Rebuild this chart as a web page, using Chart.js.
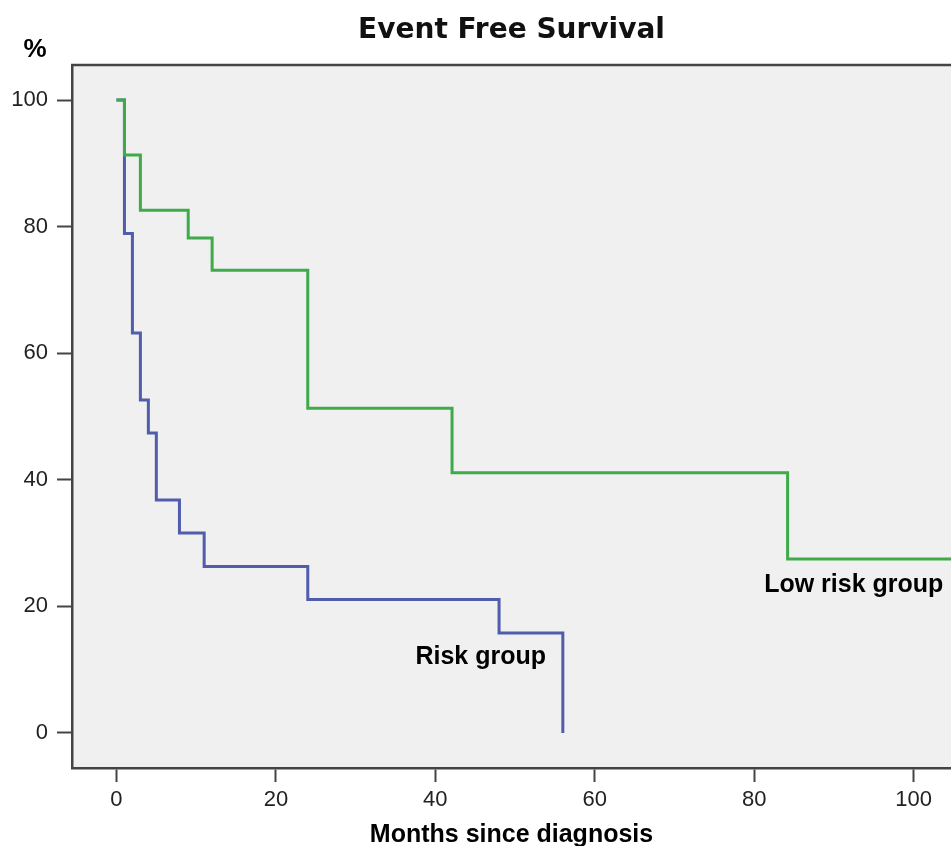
<!DOCTYPE html>
<html>
<head>
<meta charset="utf-8">
<script src="https://cdn.jsdelivr.net/npm/chart.js@4"></script>
<style>
html,body{margin:0;padding:0;background:#fff;}
#wrap{width:951px;height:846px;position:relative;}
</style>
</head>
<body>
<div id="wrap"><canvas id="c" width="951" height="846"></canvas></div>
<script>
// ---- data ----
const xTickValues = [0, 20, 40, 60, 80, 100];
const yTickValues = [0, 20, 40, 60, 80, 100];
const seriesNames = ['Low risk group', 'Risk group'];
const lowRiskMonths   = [0, 1, 3, 9, 12, 24, 42.1, 84.2, 106];
const lowRiskSurvival = [100, 91.3, 82.6, 78.2, 73.1, 51.3, 41.1, 27.5, 27.5];
const riskMonths      = [0, 1, 2, 3, 4, 5, 7.9, 11, 24, 48, 56];
const riskSurvival    = [100, 78.9, 63.2, 52.6, 47.4, 36.8, 31.6, 26.3, 21.1, 15.8, 0];

const toPoints = (xs, ys) => xs.map((x, i) => ({x: x, y: ys[i]}));

// ---- layout / style ----
const AXIS = '#444';
const LABEL_FONT = 'Liberation Sans, Arial, sans-serif';

const framePlugin = {
  id: 'frame',
  beforeDraw(chart) {
    const {ctx, chartArea: a} = chart;
    ctx.save();
    ctx.fillStyle = '#f0f0f0';
    ctx.fillRect(a.left, a.top, a.right - a.left, a.bottom - a.top);
    ctx.strokeStyle = AXIS;
    ctx.lineWidth = 2.5;
    ctx.beginPath();
    ctx.moveTo(a.left - 1, a.top);
    ctx.lineTo(a.right, a.top);
    ctx.stroke();
    ctx.restore();
  },
  afterDraw(chart, args, opts) {
    const {ctx, scales} = chart;
    ctx.save();
    ctx.fillStyle = '#000';
    ctx.textAlign = 'center';
    ctx.textBaseline = 'middle';
    ctx.font = 'bold 26px ' + LABEL_FONT;
    ctx.fillText('%', opts.percentX, opts.percentY);
    ctx.font = 'bold 25px ' + LABEL_FONT;
    opts.labels.forEach(l => {
      ctx.fillText(seriesNames[l.series], scales.x.getPixelForValue(l.x), scales.y.getPixelForValue(l.y));
    });
    ctx.restore();
  }
};

new Chart(document.getElementById('c'), {
  type: 'line',
  data: {
    datasets: [
      {
        label: seriesNames[0],
        data: toPoints(lowRiskMonths, lowRiskSurvival),
        borderColor: 'rgb(62,170,74)',
        borderWidth: 3,
        stepped: 'before',
        pointRadius: 0,
        fill: false,
        order: 0
      },
      {
        label: seriesNames[1],
        data: toPoints(riskMonths, riskSurvival),
        borderColor: 'rgb(80,92,172)',
        borderWidth: 3,
        stepped: 'before',
        pointRadius: 0,
        fill: false,
        order: 1
      }
    ]
  },
  options: {
    responsive: false,
    animation: false,
    devicePixelRatio: 1,
    layout: {padding: 0},
    plugins: {
      legend: {display: false},
      tooltip: {enabled: false},
      title: {
        display: true,
        text: 'Event Free Survival',
        fullSize: false,
        color: '#111',
        font: {family: 'DejaVu Sans, sans-serif', size: 28, weight: 'bold', lineHeight: 1.2},
        padding: {top: 14, bottom: 17.4}
      },
      frame: {
        percentX: 35,
        percentY: 50,
        labels: [
          {series: 0, x: 92.5, y: 23.4},
          {series: 1, x: 45.7, y: 12.0}
        ]
      }
    },
    scales: {
      x: {
        type: 'linear',
        min: -5.58,
        max: 104.7,
        afterBuildTicks: s => { s.ticks = xTickValues.map(v => ({value: v})); },
        afterFit: s => { s.height = 78; },
        grid: {display: true, drawOnChartArea: false, drawTicks: true, tickLength: 14, tickColor: AXIS, tickWidth: 2},
        border: {display: true, color: AXIS, width: 2.5},
        ticks: {font: {family: LABEL_FONT, size: 22}, color: '#222', padding: 5, maxRotation: 0, autoSkip: false},
        title: {
          display: true,
          text: 'Months since diagnosis',
          color: '#000',
          font: {family: LABEL_FONT, size: 25, weight: 'bold', lineHeight: 0.85},
          padding: {top: 0, bottom: 0}
        }
      },
      y: {
        type: 'linear',
        min: -5.53,
        max: 105.53,
        afterBuildTicks: s => { s.ticks = yTickValues.map(v => ({value: v})); },
        afterFit: s => { s.width = 72; },
        grid: {display: true, drawOnChartArea: false, drawTicks: true, tickLength: 15, tickColor: AXIS, tickWidth: 2},
        border: {display: true, color: AXIS, width: 2.5},
        ticks: {font: {family: LABEL_FONT, size: 22}, color: '#222', padding: 9, autoSkip: false}
      }
    }
  },
  plugins: [framePlugin]
});
</script>
</body>
</html>
